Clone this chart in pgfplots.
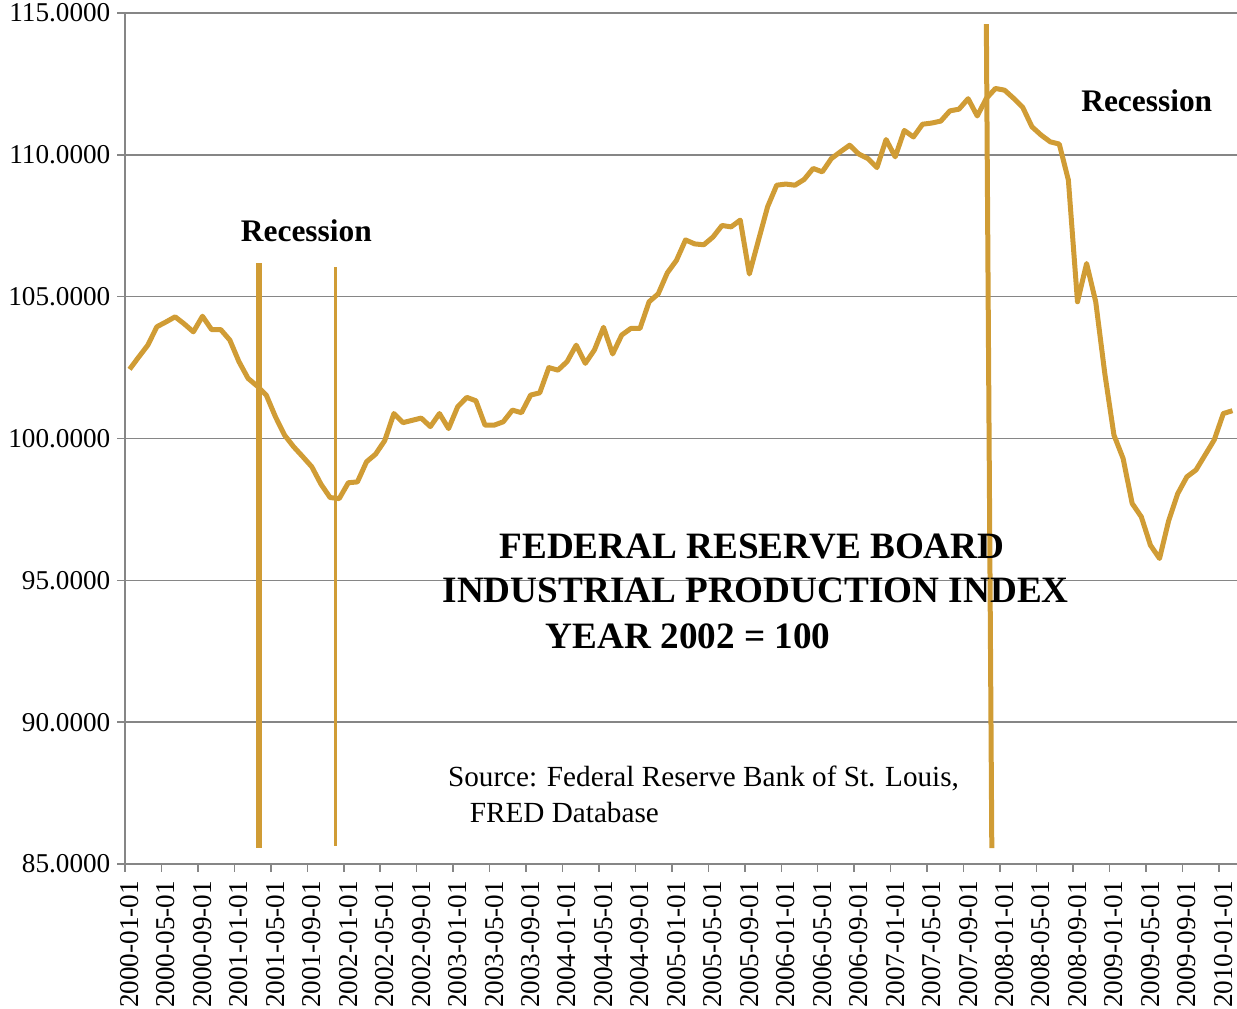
\documentclass[border=0pt]{standalone}
\usepackage{fontspec}
\setmainfont{Liberation Serif}
\usepackage{pgfplots}
\usepackage{pgfplotstable}
\pgfplotsset{compat=1.18}
\definecolor{ipline}{RGB}{208,156,53}
\definecolor{gridgray}{RGB}{134,134,134}
\pgfplotstableread{
m v
0 102.44
1 102.87
2 103.29
3 103.94
4 104.11
5 104.29
6 104.04
7 103.76
8 104.31
9 103.84
10 103.84
11 103.47
12 102.71
13 102.12
14 101.85
15 101.53
16 100.77
17 100.12
18 99.71
19 99.36
20 99.00
21 98.39
22 97.92
23 97.88
24 98.44
25 98.47
26 99.18
27 99.45
28 99.93
29 100.88
30 100.56
31 100.64
32 100.72
33 100.42
34 100.88
35 100.35
36 101.12
37 101.45
38 101.33
39 100.47
40 100.47
41 100.59
42 101.00
43 100.91
44 101.53
45 101.61
46 102.50
47 102.41
48 102.71
49 103.29
50 102.65
51 103.12
52 103.92
53 102.98
54 103.65
55 103.88
56 103.88
57 104.82
58 105.10
59 105.84
60 106.28
61 107.00
62 106.86
63 106.83
64 107.10
65 107.51
66 107.46
67 107.70
68 105.80
69 106.99
70 108.17
71 108.93
72 108.97
73 108.93
74 109.13
75 109.52
76 109.40
77 109.87
78 110.11
79 110.34
80 110.03
81 109.87
82 109.55
83 110.54
84 109.93
85 110.86
86 110.63
87 111.08
88 111.12
89 111.19
90 111.55
91 111.61
92 111.98
93 111.37
94 111.99
95 112.34
96 112.28
97 111.99
98 111.67
99 110.99
100 110.70
101 110.46
102 110.38
103 109.11
104 104.82
105 106.17
106 104.82
107 102.28
108 100.12
109 99.30
110 97.71
111 97.24
112 96.24
113 95.77
114 97.10
115 98.06
116 98.65
117 98.89
118 99.42
119 99.95
120 100.88
121 100.98
}\ipdata
\begin{document}
\begin{tikzpicture}
\begin{axis}[
  scale only axis, width=556pt, height=425.5pt,
  at={(0,0)}, anchor=south west,
  xmin=-0.5, xmax=121.5, ymin=85, ymax=115,
  axis x line=bottom, axis y line=left,
  axis line style={-, gridgray, line width=0.75pt},
  tick align=outside,
  major tick length=3.8pt,
  tick style={gridgray, line width=0.75pt},
  ytick={85,90,...,115},
  ymajorgrids,
  major grid style={gridgray, line width=0.75pt},
  /pgf/number format/assume math mode=true,
  yticklabel={\pgfmathprintnumber[fixed, fixed zerofill, precision=4, 1000 sep={}]{\tick}},
  yticklabel style={font=\fontsize{13.6}{16}\selectfont},
  xtick={-0.5,3.5,...,119.5},
  xticklabels={},
  extra x ticks={0,4,...,120},
  extra x tick labels={2000-01-01,2000-05-01,2000-09-01,2001-01-01,2001-05-01,2001-09-01,2002-01-01,2002-05-01,2002-09-01,2003-01-01,2003-05-01,2003-09-01,2004-01-01,2004-05-01,2004-09-01,2005-01-01,2005-05-01,2005-09-01,2006-01-01,2006-05-01,2006-09-01,2007-01-01,2007-05-01,2007-09-01,2008-01-01,2008-05-01,2008-09-01,2009-01-01,2009-05-01,2009-09-01,2010-01-01},
  extra x tick style={major tick length=0pt, xticklabel style={rotate=90, anchor=east, font=\fontsize{13.6}{16}\selectfont, xshift=-5pt}},
  clip=false,
]
\addplot[ipline, line width=2.5pt, line join=round] table[x=m, y=v] {\ipdata};
\addplot[ipline, line width=2.6pt] coordinates {(14.2,85.58) (14.2,106.18)};
\addplot[ipline, line width=1.8pt] coordinates {(22.6,85.65) (22.6,106.06)};
\addplot[ipline, line width=2.5pt] coordinates {(94.0,114.61) (94.6,85.56)};
\node[font=\fontsize{15.7}{18}\selectfont\bfseries] at (axis cs:19.4,107.32) {Recession};
\node[font=\fontsize{15.7}{18}\selectfont\bfseries] at (axis cs:111.6,111.90) {Recession};
\node[font=\fontsize{18.6}{22}\selectfont\bfseries] at (axis cs:68.3,96.18) {FEDERAL RESERVE BOARD};
\node[font=\fontsize{18.6}{22}\selectfont\bfseries] at (axis cs:68.7,94.63) {INDUSTRIAL PRODUCTION INDEX};
\node[font=\fontsize{18.6}{22}\selectfont\bfseries] at (axis cs:61.3,93.04) {YEAR 2002 = 100};
\node[font=\fontsize{14.6}{17}\selectfont, anchor=west, inner sep=0pt] at (axis cs:34.9,88.03) {Source: Federal Reserve Bank of St. Louis,};
\node[font=\fontsize{14.6}{17}\selectfont, anchor=west, inner sep=0pt] at (axis cs:37.3,86.80) {FRED Database};
\end{axis}
\pgfresetboundingbox
\path[use as bounding box] (-62.5pt,-72pt) rectangle (556pt,432pt);
\end{tikzpicture}
\end{document}
